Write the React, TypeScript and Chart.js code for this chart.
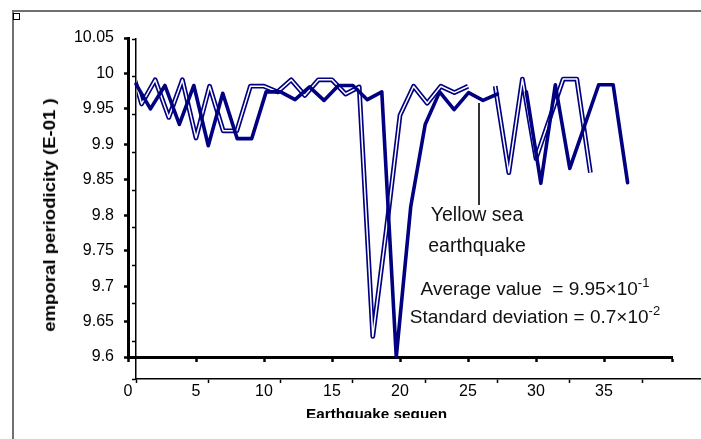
import React, { useEffect, useRef } from 'react';
import { Chart, registerables } from 'chart.js';

Chart.register(...registerables);

// ---- data ----
const xTicks = [0, 5, 10, 15, 20, 25, 30, 35, 40];
const xTickLabels = ['0', '5', '10', '15', '20', '25', '30', '35', ''];
const yTicks = [9.6, 9.65, 9.7, 9.75, 9.8, 9.85, 9.9, 9.95, 10, 10.05];
const yTickLabels = ['9.6', '9.65', '9.7', '9.75', '9.8', '9.85', '9.9', '9.95', '10', '10.05'];
const innerXTicks = [0, 5, 10, 15, 20, 25, 30, 35];

// hollow (double) line series, on the labelled axis
const sequenceA = [0, 1, 2, 3, 4, 5, 6, 7, 8, 9, 10, 11, 12, 13, 14, 15, 16, 17, 18, 19, 20, 21, 22, 23, 24, 25, 26, 27, 28, 29, 30, 31, 32, 33, 34];
const doubleLineValues = [
  10.024, 9.957, 9.991, 9.938, 9.991, 9.909, 9.982, 9.919, 9.919, 9.982,
  9.982, 9.974, 9.991, 9.969, 9.991, 9.991, 9.971, 9.981, 9.629, 9.78,
  9.941, 9.982, 9.958, 9.982, 9.973, 9.982, null, 9.982, 9.86, 9.992,
  9.88, 9.936, 9.992, 9.992, 9.86,
];

// bold line series, on the inner (unlabelled) sequence axis
const sequenceB = [0, 1, 2, 3, 4, 5, 6, 7, 8, 9, 10, 11, 12, 13, 14, 15, 16, 17, 18, 19, 20, 21, 22, 23, 24, 25, 26, 27, 28, 29, 30, 31, 32, 33, 34];
const boldLineValues = [
  9.985, 9.95, 9.983, 9.928, 9.983, 9.898, 9.972, 9.908, 9.908, 9.974,
  9.974, 9.963, 9.981, 9.962, 9.983, 9.983, 9.963, 9.974, 9.6, 9.812,
  9.928, 9.974, 9.949, 9.973, 9.962, 9.971, null, 9.974, 9.845, 9.984,
  9.866, 9.925, 9.984, 9.984, 9.846,
];

const NAVY = '#000080';
const TICK_FONT = "'Liberation Sans', Arial, sans-serif";
const TEXT_FONT = "'Liberation Sans', Arial, sans-serif";

const pts = (xs: number[], ys: (number | null)[]) => xs.map((x, i) => ({ x, y: ys[i] }));

export default function App() {
  const outerRef = useRef<HTMLCanvasElement | null>(null);
  const innerRef = useRef<HTMLCanvasElement | null>(null);

  useEffect(() => {
    // thin inner frame axes (behind)
    const inner = new Chart(innerRef.current as HTMLCanvasElement, {
      type: 'line',
      data: { datasets: [] },
      options: {
        responsive: false,
        animation: false,
        events: [],
        plugins: { legend: { display: false }, tooltip: { enabled: false } },
        layout: { padding: { left: 0, top: 39, right: 0, bottom: 0 } },
        scales: {
          x: {
            type: 'linear',
            position: 'bottom',
            min: 0,
            max: 39.07,
            afterBuildTicks: (s: any) => { s.ticks = innerXTicks.map((v) => ({ value: v })); },
            ticks: { display: false },
            grid: { drawOnChartArea: false, drawTicks: true, tickLength: 4, tickWidth: 1.5, tickColor: '#000' },
            border: { display: true, color: '#000', width: 1.5 },
            afterFit: (s: any) => { s.height = 60; },
          },
          y: {
            type: 'linear',
            position: 'left',
            min: 9.6,
            max: 10.05,
            afterBuildTicks: (s: any) => { s.ticks = yTicks.map((v) => ({ value: v })); },
            ticks: { display: false },
            grid: { drawOnChartArea: false, drawTicks: true, tickLength: 4, tickWidth: 1.5, tickColor: '#000' },
            border: { display: true, color: '#000', width: 1.5 },
            afterFit: (s: any) => { s.width = 136; },
          },
        },
      } as any,
    });

    const outer = new Chart(outerRef.current as HTMLCanvasElement, {
      type: 'line',
      data: {
        datasets: [
          {
            label: 'bold',
            data: pts(sequenceB, boldLineValues),
            xAxisID: 'xs',
            yAxisID: 'y',
            borderColor: NAVY,
            borderWidth: 3.6,
            pointRadius: 0,
            borderJoinStyle: 'round',
            borderCapStyle: 'round',
            tension: 0,
            clip: false,
          },
          {
            label: 'hollow-inner',
            data: pts(sequenceA, doubleLineValues),
            xAxisID: 'x',
            yAxisID: 'y',
            borderColor: '#ffffff',
            borderWidth: 1.5,
            pointRadius: 0,
            borderJoinStyle: 'round',
            tension: 0,
            clip: { left: -9, top: 10, right: 10, bottom: 10 },
          },
          {
            label: 'hollow',
            data: pts(sequenceA, doubleLineValues),
            xAxisID: 'x',
            yAxisID: 'y',
            borderColor: NAVY,
            borderWidth: 4.8,
            pointRadius: 0,
            borderJoinStyle: 'round',
            tension: 0,
            clip: { left: -9, top: 10, right: 10, bottom: 10 },
          },
        ],
      },
      options: {
        responsive: false,
        animation: false,
        events: [],
        plugins: { legend: { display: false }, tooltip: { enabled: false } },
        layout: { padding: { left: 0, top: 38, right: 29, bottom: 0 } },
        scales: {
          x: {
            type: 'linear',
            position: 'bottom',
            min: 0,
            max: 40,
            afterBuildTicks: (s: any) => { s.ticks = xTicks.map((v) => ({ value: v })); },
            ticks: {
              callback: (_v: any, i: number) => xTickLabels[i],
              font: { family: TICK_FONT, size: 16 },
              color: '#000',
              padding: 20,
              maxRotation: 0,
              autoSkip: false,
            },
            grid: { drawOnChartArea: false, drawTicks: true, tickLength: 5, tickWidth: 2.5, tickColor: '#000' },
            border: { display: true, color: '#000', width: 3 },
            afterFit: (s: any) => { s.height = 82; },
          },
          xs: {
            type: 'linear',
            display: false,
            min: -0.553,
            max: 37.07,
          },
          y: {
            type: 'linear',
            position: 'left',
            min: 9.6,
            max: 10.05,
            afterBuildTicks: (s: any) => { s.ticks = yTicks.map((v) => ({ value: v })); },
            ticks: {
              callback: (_v: any, i: number) => yTickLabels[i],
              font: { family: TICK_FONT, size: 16 },
              color: '#000',
              padding: 10,
              autoSkip: false,
            },
            grid: { drawOnChartArea: false, drawTicks: true, tickLength: 4, tickWidth: 2.5, tickColor: '#000' },
            border: { display: true, color: '#000', width: 3 },
            afterFit: (s: any) => { s.width = 128; },
          },
        },
      } as any,
    });

    return () => {
      outer.destroy();
      inner.destroy();
    };
  }, []);

  const abs: React.CSSProperties = { position: 'absolute' };
  const text: React.CSSProperties = {
    position: 'absolute',
    fontFamily: TEXT_FONT,
    color: '#111',
    whiteSpace: 'pre',
    lineHeight: 1,
  };
  const sup: React.CSSProperties = { fontSize: 13, verticalAlign: '8.5px', lineHeight: 0 };

  return (
    <div style={{ position: 'fixed', left: 0, top: 0, width: 701, height: 439, overflow: 'hidden', background: '#fff' }}>
      {/* outer frame */}
      <div style={{ ...abs, left: 12, top: 10, width: 700, height: 2, background: '#707070' }} />
      <div style={{ ...abs, left: 12, top: 10, width: 2, height: 440, background: '#707070' }} />
      <div style={{ ...abs, left: 13, top: 13, width: 7, height: 7, boxSizing: 'border-box', border: '1.5px solid #000', background: '#fff' }} />

      <canvas ref={innerRef} width={701} height={439} style={{ ...abs, left: 0, top: 0, width: 701, height: 439 }} />
      <canvas ref={outerRef} width={701} height={439} style={{ ...abs, left: 0, top: 0, width: 701, height: 439 }} />

      {/* y axis title */}
      <div
        style={{
          ...text,
          left: 50,
          top: 215,
          fontSize: 18.6,
          fontWeight: 700,
          color: '#000',
          transform: 'translate(-50%, -50%) rotate(-90deg) scaleY(0.88)',
        }}
      >
        emporal periodicity (E-01 )
      </div>

      {/* x axis title (clipped) */}
      <div style={{ ...abs, left: 300, top: 400, width: 200, height: 17.5, overflow: 'hidden' }}>
        <div style={{ ...text, left: 6, top: 6.3, fontSize: 15.3, fontWeight: 700, color: '#000' }}>Earthquake sequen</div>
      </div>

      {/* annotation */}
      <div style={{ ...abs, left: 478, top: 103, width: 1.5, height: 102, background: '#333' }} />
      <div style={{ ...text, left: 477, top: 204.5, fontSize: 19.5, transform: 'translateX(-50%)' }}>Yellow sea</div>
      <div style={{ ...text, left: 477, top: 235.5, fontSize: 19.5, transform: 'translateX(-50%)' }}>earthquake</div>

      <div style={{ ...text, left: 535, top: 279.2, fontSize: 19, transform: 'translateX(-50%)' }}>
        {'Average value  = 9.95×10'}
        <span style={sup}>-1</span>
      </div>
      <div style={{ ...text, left: 535, top: 307.2, fontSize: 19, transform: 'translateX(-50%)' }}>
        {'Standard deviation = 0.7×10'}
        <span style={sup}>-2</span>
      </div>
    </div>
  );
}
